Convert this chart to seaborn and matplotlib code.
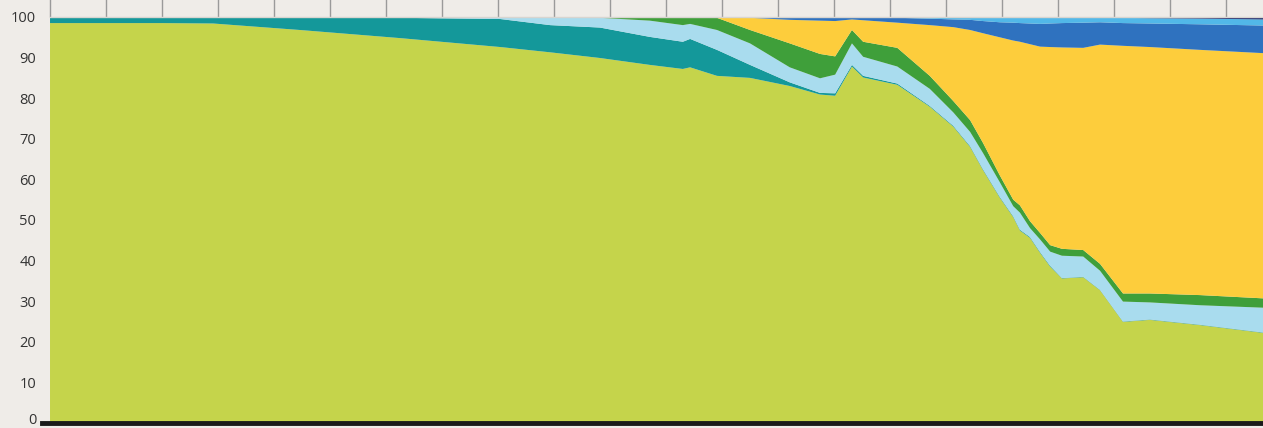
import numpy as np
import matplotlib
matplotlib.use("Agg")
import matplotlib.pyplot as plt
import matplotlib.transforms as mtransforms
import seaborn as sns

# x positions (decimal years)
years = [1990.00, 1992.00, 1992.91, 1994.46, 1996.25, 1998.04, 1998.93, 1999.82,
         2000.71, 2001.30, 2001.43, 2001.91, 2002.50, 2003.21, 2003.75, 2004.02,
         2004.32, 2004.52, 2005.13, 2005.71, 2006.13, 2006.43, 2006.66, 2006.96,
         2007.20, 2007.32, 2007.50, 2007.68, 2007.86, 2008.07, 2008.45, 2008.75,
         2009.16, 2009.64, 2010.54, 2011.66]

# shares (%) of each layer, bottom to top
lime = [98.5, 98.5, 98.4, 96.8, 94.8, 92.6, 91.3, 89.9,
        88.2, 87.2, 87.6, 85.5, 85.0, 83.0, 80.9, 80.6,
        87.8, 85.1, 83.3, 77.9, 73.0, 68.0, 62.3, 55.5,
        50.7, 47.4, 45.6, 41.9, 38.5, 35.6, 35.9, 32.7,
        24.9, 25.4, 24.1, 22.2]
teal = [1.5, 1.5, 1.6, 3.2, 5.0, 6.9, 6.7, 7.5,
        6.9, 6.7, 7.0, 6.4, 3.2, 0.9, 0.4, 0.6,
        0.4, 0.4, 0.3, 0.2, 0.2, 0.2, 0.2, 0.2,
        0.2, 0.2, 0.2, 0.2, 0.2, 0.1, 0.1, 0.1,
        0.1, 0.1, 0.1, 0.1]
light_blue = [0.0, 0.0, 0.0, 0.0, 0.2, 0.5, 2.0, 2.4,
              4.0, 4.1, 3.7, 4.9, 5.3, 3.7, 3.6, 4.6,
              5.3, 4.7, 4.2, 4.2, 3.3, 3.5, 4.0, 3.6,
              2.5, 4.2, 2.2, 3.1, 3.5, 5.5, 5.0, 4.7,
              4.9, 4.2, 4.8, 6.1]
green = [0.0, 0.0, 0.0, 0.0, 0.0, 0.0, 0.0, 0.2,
         0.9, 2.0, 1.7, 3.0, 3.3, 5.9, 6.0, 4.5,
         3.3, 3.7, 4.6, 3.2, 2.8, 2.9, 2.5, 1.7,
         1.6, 1.8, 1.7, 1.6, 1.6, 1.7, 1.6, 1.7,
         2.0, 2.2, 2.5, 2.3]
yellow = [0.0, 0.0, 0.0, 0.0, 0.0, 0.0, 0.0, 0.0,
          0.0, 0.0, 0.0, 0.2, 3.0, 5.8, 8.2, 8.7,
          2.6, 5.3, 6.2, 12.5, 18.2, 22.2, 27.0, 34.0,
          39.2, 40.3, 43.6, 45.9, 48.8, 49.6, 49.8, 54.0,
          61.0, 60.7, 60.4, 60.4]
blue = [0.0, 0.0, 0.0, 0.0, 0.0, 0.0, 0.0, 0.0,
        0.0, 0.0, 0.0, 0.0, 0.2, 0.7, 0.9, 1.0,
        0.6, 0.8, 1.2, 1.6, 1.9, 2.5, 3.0, 3.7,
        4.4, 4.6, 5.1, 5.6, 5.8, 6.0, 6.2, 5.5,
        5.6, 5.8, 6.3, 6.8]
sky_blue = [0.0, 0.0, 0.0, 0.0, 0.0, 0.0, 0.0, 0.0,
            0.0, 0.0, 0.0, 0.0, 0.0, 0.0, 0.0, 0.0,
            0.0, 0.0, 0.2, 0.4, 0.6, 0.7, 1.0, 1.3,
            1.4, 1.5, 1.6, 1.7, 1.6, 1.5, 1.4, 1.2,
            1.3, 1.3, 1.4, 1.5]
navy = [0.0, 0.0, 0.0, 0.0, 0.0, 0.0, 0.0, 0.0,
        0.0, 0.0, 0.0, 0.0, 0.0, 0.0, 0.0, 0.0,
        0.0, 0.0, 0.0, 0.0, 0.0, 0.0, 0.0, 0.0,
        0.0, 0.0, 0.0, 0.0, 0.0, 0.0, 0.0, 0.1,
        0.2, 0.3, 0.4, 0.6]

tick_years = list(range(1990, 2012))
y_ticks = [0, 10, 20, 30, 40, 50, 60, 70, 80, 90, 100]

colors = ["#c5d44b", "#14989a", "#a9dcee", "#3f9f3a",
          "#fdcd3c", "#2f72bf", "#52b8e8", "#222a6b"]


def main():
    sns.set_theme(style="white")
    plt.rcParams['font.family'] = ['Open Sans', 'DejaVu Sans']
    bg = "#efece8"

    fig = plt.figure(figsize=(12.63, 4.28), dpi=100, facecolor=bg)
    ax = fig.add_axes([0.0396, 0.0117, 0.9604, 0.9486])
    ax.set_facecolor(bg)

    ax.stackplot(years, lime, teal, light_blue, green, yellow, blue, sky_blue, navy,
                 colors=colors, linewidth=0, edgecolor="none")

    ax.set_xlim(1990, 2011.66)
    ax.set_ylim(0, 100)

    # year ticks run along the top, unlabeled
    ax.xaxis.tick_top()
    ax.set_xticks(tick_years)
    ax.set_xticklabels([])
    ax.tick_params(axis='x', direction='out', length=14, width=1, color="#9a9a9a")

    ax.set_yticks(y_ticks)
    ax.set_yticklabels([str(v) for v in y_ticks], fontsize=10.5, color="#333333")
    ax.tick_params(axis='y', length=0, pad=10)

    # lift the "0" a little so it stays inside the figure
    zero_label = ax.get_yticklabels()[0]
    zero_label.set_transform(zero_label.get_transform() +
                             mtransforms.ScaledTranslation(0, 3 / 72, fig.dpi_scale_trans))

    for side in ['left', 'right']:
        ax.spines[side].set_visible(False)
    ax.spines['top'].set_color("#d8d5d0")
    ax.spines['top'].set_linewidth(1)
    ax.spines['bottom'].set_color("#1a1a1a")
    ax.spines['bottom'].set_linewidth(3.5)
    ax.spines['bottom'].set_zorder(5)
    ax.spines['bottom'].set_bounds(1989.86, 2011.66)

    fig.savefig("out.png", dpi=100, facecolor=bg)
    plt.close(fig)


if __name__ == "__main__":
    main()
